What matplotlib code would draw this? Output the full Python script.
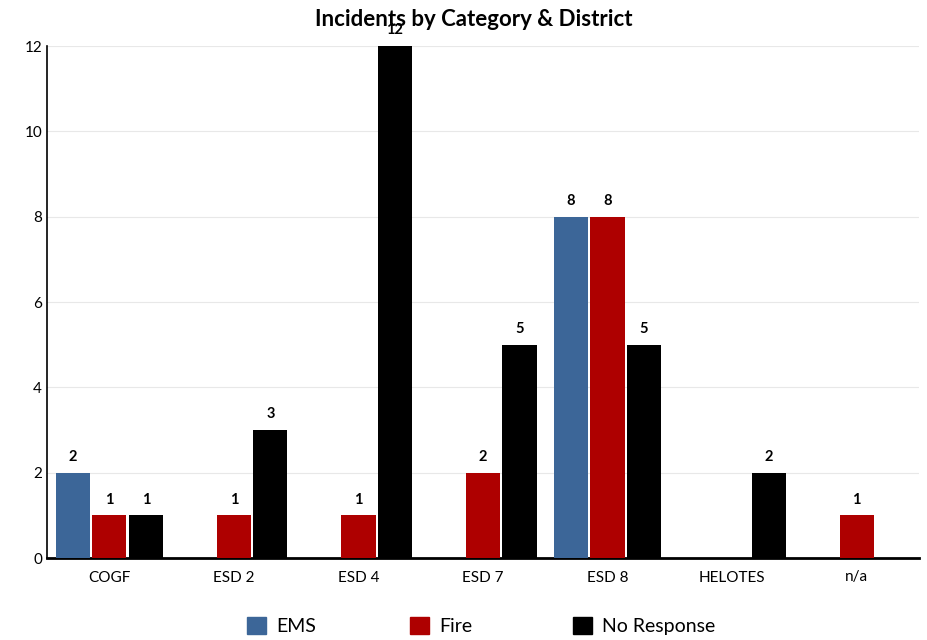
import numpy as np
import matplotlib; matplotlib.use("Agg"); import matplotlib.pyplot as plt
from matplotlib.patches import Patch
plt.rcParams['font.family'] = ['Lato', 'DejaVu Sans']

districts = ['COGF', 'ESD 2', 'ESD 4', 'ESD 7', 'ESD 8', 'HELOTES', 'n/a']
ems = [2, 0, 0, 0, 8, 0, 0]
fire = [1, 1, 1, 2, 8, 0, 1]
no_resp = [1, 3, 12, 5, 5, 2, 0]
series = [('EMS', ems, '#3C6698'), ('Fire', fire, '#AE0000'), ('No Response', no_resp, '#000000')]

fig = plt.figure(figsize=(9.28, 6.4), dpi=100)
ax = fig.add_axes([47/928, 1-558/640, 872/928, 512/640])
x = np.arange(len(districts))
w = 0.275; off = 0.293
for i, (name, vals, col) in enumerate(series):
    for xi, v in zip(x, vals):
        if v == 0: continue
        ax.bar(xi + (i-1)*off, v, w, color=col, zorder=3)
        ax.text(xi + (i-1)*off, v + 0.2, str(v), ha='center', va='bottom', fontsize=10.5, fontweight='bold', zorder=4)

ax.set_xlim(-0.5, 6.5); ax.set_ylim(0, 12)
ax.set_yticks(range(0, 13, 2))
ax.set_xticks(x); ax.set_xticklabels(districts)
ax.tick_params(length=0, labelsize=11)
ax.tick_params(axis='x', pad=9)
ax.grid(axis='y', color='#e8e8e8', lw=0.8, zorder=0)
for s in ['top', 'right']: ax.spines[s].set_visible(False)
ax.spines['left'].set_linewidth(1.2)
ax.spines['bottom'].set_linewidth(2)
fig.text(474/928, 1-19/640, 'Incidents by Category & District', ha='center', va='center', fontsize=16, fontweight='bold')

# legend items at fixed spacing, like the original
for (n, _, c), lx in zip(series, [247, 410, 573]):
    fig.legend(handles=[Patch(color=c, label=n)], loc='center left', bbox_to_anchor=(lx/928, 1-626/640),
               frameon=False, fontsize=14, handlelength=1.0, handleheight=1.0, handletextpad=0.5,
               borderpad=0, borderaxespad=0)
fig.savefig('out.png', dpi=100)
